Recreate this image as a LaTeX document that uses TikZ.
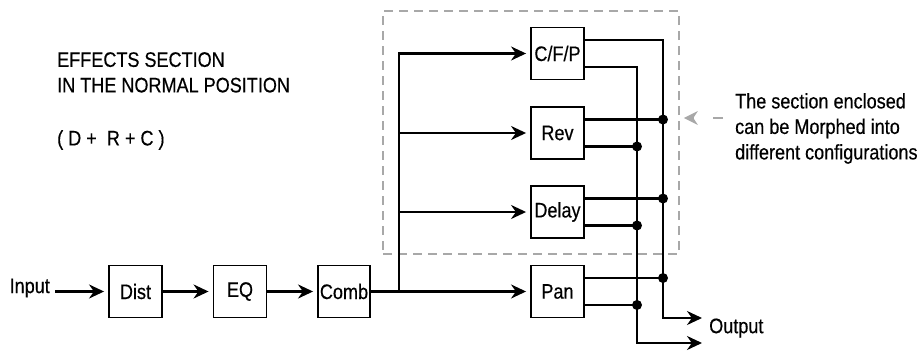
\documentclass[tikz,border=0pt]{standalone}
\usepackage{fontspec}
\setmainfont{Liberation Sans}[FakeStretch=0.86,FakeBold=0.4]
\usetikzlibrary{arrows.meta,calc}
\definecolor{morphgray}{RGB}{168,168,168}

\begin{document}
\begin{tikzpicture}[x=1pt,y=-1pt,
    font=\fontsize{21}{25.5}\selectfont,
    block/.style={draw,line width=1.9pt,minimum width=53pt,minimum height=52pt,inner sep=0pt},
    wire/.style={line width=2.1pt},
    flow/.style={wire,-{Stealth[length=15pt,width=14pt]}},
    into/.style={flow,shorten >=4pt}]
  \useasboundingbox (0,0) rectangle (922,351);

  % text on the left
  \node[anchor=north west,align=left,inner sep=0pt] (title) at (57,52)
    {EFFECTS SECTION\\IN THE NORMAL POSITION};
  \node[anchor=north west,inner sep=0pt] (mix) at (57,130) {( D + \ R + C )};

  % the part that can be morphed
  \node[draw=morphgray,dash pattern=on 9pt off 6pt,line width=1.7pt,
    minimum width=296pt,minimum height=243pt] (morph) at (531,132.5) {};

  \node[block] (dist) at (135.5,291.5) {Dist};
  \node[block] (eq) at (240,291.5) {EQ};
  \node[block,minimum width=52pt] (comb) at (344,291.5) {Comb};
  \node[block] (cfp) at (557.5,53.5) {C/F/P};
  \node[block] (rev) at (557.5,133) {Rev};
  \node[block] (dly) at (557.5,212) {Delay};
  \node[block] (pan) at (557.5,291.5) {Pan};

  \node[anchor=east,inner xsep=5pt,inner ysep=0pt] (input) at (55,288) {Input};
  \node[anchor=west,inner xsep=7pt,inner ysep=0pt] (output) at (702,328) {Output};
  \node[anchor=north west,align=left,inner sep=0pt] (note) at (735,93)
    {The section enclosed\\can be Morphed into\\different configurations};

  % signal chain
  \coordinate (split) at (399,291.5);
  \draw[into] (input.east |- dist.west) -- (dist.west);
  \draw[into] (dist) -- (eq);
  \draw[into] (eq) -- (comb);
  \draw[into] (comb) -- (pan);
  \foreach \b in {cfp,rev,dly}
    \draw[into] (split) |- (\b.west);

  % two output buses
  \foreach \b in {cfp,rev,dly,pan} {
    \coordinate (\b-hi) at ($(\b.north east)!0.25!(\b.south east)$);
    \coordinate (\b-lo) at ($(\b.north east)!0.75!(\b.south east)$);
  }
  \coordinate (busA) at (663,318);
  \coordinate (busB) at (637,343);
  \draw[flow] (cfp-hi) -| (busA) -- (output.west |- busA);
  \draw[flow] (cfp-lo) -| (busB) -- (output.west |- busB);
  \foreach \b in {rev,dly,pan} {
    \draw[wire] (\b-hi) -- (\b-hi -| busA);
    \fill (\b-hi -| busA) circle (5pt);
    \draw[wire] (\b-lo) -- (\b-lo -| busB);
    \fill (\b-lo -| busB) circle (5pt);
  }

  % pointer from the note
  \coordinate (noteptr) at (723,118);
  \draw[morphgray,line width=1.7pt,dash pattern=on 10pt off 20pt,
    -{Stealth[length=14pt,width=14pt]},shorten >=4pt] (noteptr) -- (morph.east |- noteptr);
\end{tikzpicture}
\end{document}
